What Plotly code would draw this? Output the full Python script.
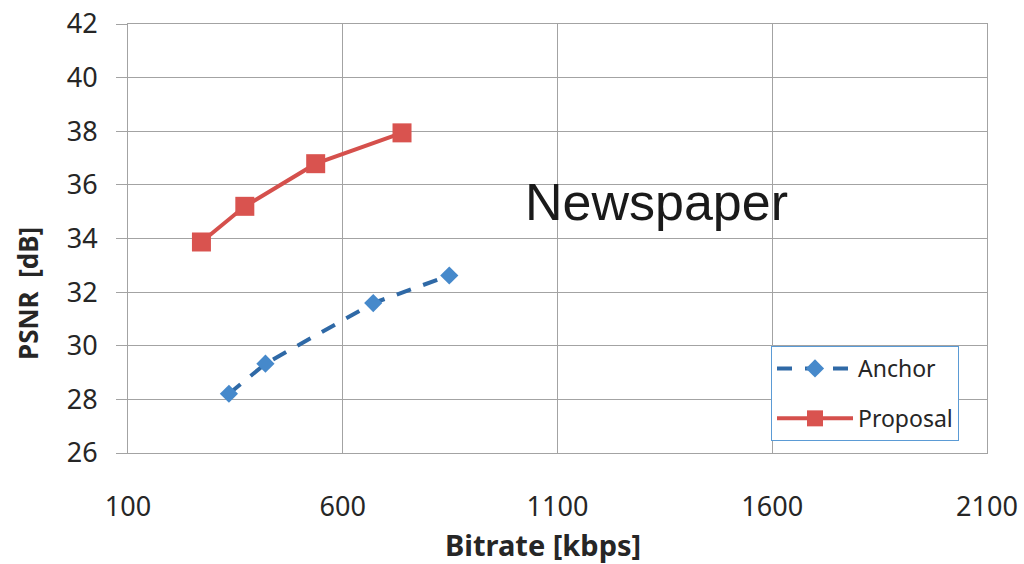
import plotly.graph_objects as go

anchor_x = [335, 420, 671, 848]
anchor_y = [28.21, 29.33, 31.59, 32.62]
proposal_x = [271, 372, 537, 738]
proposal_y = [33.87, 35.20, 36.79, 37.94]

x_ticks = [100, 600, 1100, 1600, 2100]
y_ticks = [26, 28, 30, 32, 34, 36, 38, 40, 42]

W, H = 1024, 564
ML, MR, MT, MB = 128, 37, 24, 111
PW = W - ML - MR
PH = H - MT - MB


def px(xp):
    return (xp - ML) / PW


def py(yp):
    return (H - MB - yp) / PH


fig = go.Figure()
fig.add_trace(go.Scatter(
    x=anchor_x, y=anchor_y, name="Anchor", mode="lines+markers", legendgroup="a",
    line=dict(color="#2F69A6", width=4, dash="15px,13px"),
    marker=dict(symbol="diamond", size=14, color="#4689CB", line=dict(width=0)),
))
fig.add_trace(go.Scatter(
    x=proposal_x, y=proposal_y, name="Proposal", mode="lines+markers", legendgroup="p",
    line=dict(color="#D5504C", width=4),
    marker=dict(symbol="square", size=19, color="#D9534F", line=dict(width=0)),
))

grid = "#A3A3A3"
fig.update_layout(
    width=W, height=H,
    margin=dict(l=ML, r=MR, t=MT, b=MB),
    paper_bgcolor="white", plot_bgcolor="white",
    font=dict(family="Noto Sans", color="#262626"),
    showlegend=True,
    legend=dict(
        x=px(771), y=py(346), xanchor="left", yanchor="top",
        bordercolor="#5B9BD5", borderwidth=1, bgcolor="white",
        font=dict(size=23, family="Noto Sans", color="#262626"),
        itemwidth=76, traceorder="grouped", tracegroupgap=17,
    ),
    xaxis=dict(
        range=[100, 2100], tickvals=x_ticks, ticktext=[str(v) for v in x_ticks],
        showgrid=True, gridcolor=grid, gridwidth=1,
        showline=True, linecolor=grid, linewidth=1, mirror=True,
        ticks="", tickfont=dict(size=27), ticklabelstandoff=30,
        zeroline=False, automargin=False,
    ),
    yaxis=dict(
        range=[26, 42], tickvals=y_ticks, ticktext=[str(v) for v in y_ticks],
        showgrid=True, gridcolor=grid, gridwidth=1,
        showline=True, linecolor=grid, linewidth=1, mirror=True,
        ticks="outside", ticklen=11, tickcolor=grid, tickwidth=1,
        tickfont=dict(size=27), ticklabelstandoff=13,
        zeroline=False, automargin=False,
    ),
    annotations=[
        dict(text="Newspaper", x=px(656), y=py(202), xref="paper", yref="paper",
             showarrow=False,
             font=dict(family="Liberation Sans", size=52, color="#1A1A1A"),
             xanchor="center", yanchor="middle"),
        dict(text="<b>Bitrate [kbps]</b>", x=px(543), y=py(544), xref="paper", yref="paper",
             showarrow=False, font=dict(family="Noto Sans", size=29, color="#262626"),
             xanchor="center", yanchor="middle"),
        dict(text="<b>PSNR  [dB]</b>", x=px(28), y=py(294), xref="paper", yref="paper",
             showarrow=False, textangle=-90,
             font=dict(family="Noto Sans", size=26, color="#262626"),
             xanchor="center", yanchor="middle"),
    ],
)

fig.write_html("out.html")
